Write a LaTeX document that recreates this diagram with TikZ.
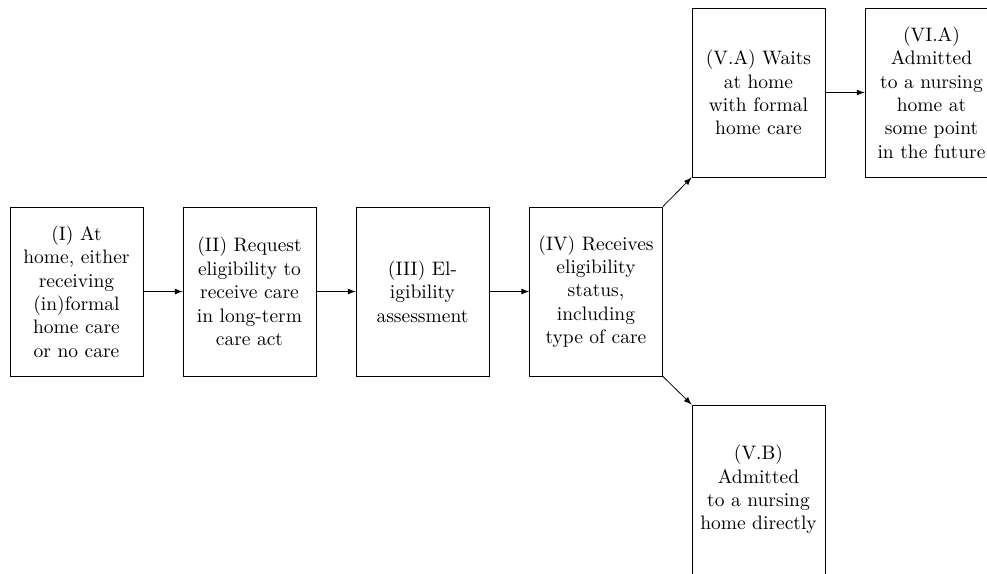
\documentclass[tikz,border=0pt]{standalone}
\usetikzlibrary{arrows}
\begin{document}
\begin{tikzpicture}[x=0.51282pt,y=-0.51282pt,
  box/.style={draw, line width=0.4pt, align=center, minimum width=68.2pt, minimum height=86.7pt, inner sep=0pt},
  arr/.style={-latex, line width=0.4pt}]
\useasboundingbox (0,0) rectangle (987,573);
\clip (0,0) rectangle (987,573);
\node[box] (i) at (76.5,291.5) {(I) At\\home, either\\receiving\\(in)formal\\home care\\or no care};
\node[box] (ii) at (249.5,291.5) {(II) Request\\eligibility to\\receive care\\in long-term\\care act};
\node[box] (iii) at (422.5,291.5) {(III) El-\\igibility\\assessment};
\node[box] (iv) at (596,291.5) {(IV) Receives\\eligibility\\status,\\including\\type of care};
\node[box] (va) at (758.5,92.5) {(V.A) Waits\\at home\\with formal\\home care};
\node[box] (via) at (931.5,92.5) {(VI.A)\\Admitted\\to a nursing\\home at\\some point\\in the future};
\node[box] (vb) at (758.5,489.5) {(V.B)\\Admitted\\to a nursing\\home directly};
\draw[arr] (i.east) -- (ii.west);
\draw[arr] (ii.east) -- (iii.west);
\draw[arr] (iii.east) -- (iv.west);
\draw[arr] (iv.north east) -- (va.south west);
\draw[arr] (iv.south east) -- (vb.north west);
\draw[arr] (va.east) -- (via.west);
\end{tikzpicture}
\end{document}
